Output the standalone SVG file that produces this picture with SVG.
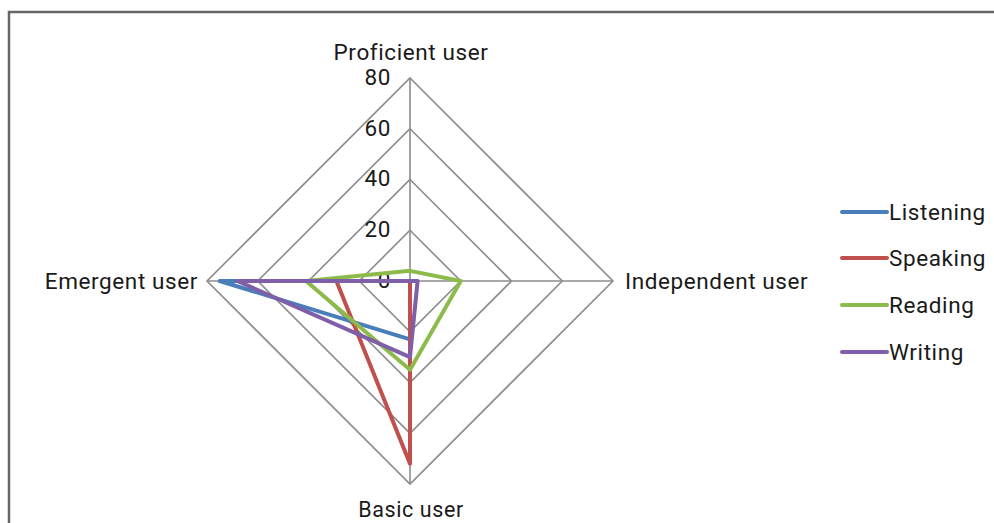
<svg xmlns="http://www.w3.org/2000/svg" width="994" height="523" viewBox="0 0 994 523">
  <style>
    text { font-family: Roboto, "Liberation Sans", sans-serif; font-size: 22.5px; letter-spacing: 0.6px; fill: #1a1a1a; }
    .grid { fill: none; stroke: #8c8c8c; stroke-width: 1.6; }
    .series { fill: none; stroke-width: 4; stroke-linejoin: round; stroke-linecap: round; }
    .tick { text-anchor: end; }
  </style>
  <rect width="994" height="523" fill="#ffffff"/>
  <!-- chart frame -->
  <rect x="9" y="12" width="1000" height="530" fill="none" stroke="#666666" stroke-width="2.5"/>

  <!-- radar grid: centre (410,281), radius 203 for 80 -->
  <g id="grid">
    <polygon class="grid" points="410,230.25 460.75,281 410,331.75 359.25,281"/>
    <polygon class="grid" points="410,179.5 511.5,281 410,382.5 308.5,281"/>
    <polygon class="grid" points="410,128.75 562.25,281 410,433.25 257.75,281"/>
    <polygon class="grid" points="410,78 613,281 410,484 207,281"/>
    <line class="grid" x1="410" y1="281" x2="410" y2="78"/>
    <line class="grid" x1="410" y1="281" x2="613" y2="281"/>
    <line class="grid" x1="410" y1="281" x2="410" y2="484"/>
    <line class="grid" x1="410" y1="281" x2="207" y2="281"/>
  </g>

  <g id="ticks">
    <text class="tick" x="391" y="288">0</text>
    <text class="tick" x="391" y="237">20</text>
    <text class="tick" x="391" y="186">40</text>
    <text class="tick" x="391" y="136">60</text>
    <text class="tick" x="391" y="85">80</text>
  </g>

  <g id="axis-labels">
    <text x="411" y="60" text-anchor="middle">Proficient user</text>
    <text x="625" y="289">Independent user</text>
    <text x="411" y="517" text-anchor="middle" style="font-size:21.5px">Basic user</text>
    <text x="198" y="289" text-anchor="end">Emergent user</text>
  </g>

  <g id="connectors">
    <polygon id="listening" class="series" stroke="#4a7ebb" points="410,281 410,281 410,339.4 219.7,281"/>
    <polygon id="speaking" class="series" stroke="#c0504d" points="410,281 410,281 410,463.7 336.4,281"/>
    <polygon id="reading" class="series" stroke="#8dbb4b" points="410,270.85 460.75,281 410,369.8 306,281"/>
    <polygon id="writing" class="series" stroke="#7f5fa8" points="410,281 417.6,281 410,357.1 237.4,281"/>
  </g>

  <g id="legend">
    <g id="legend-listening">
      <line x1="842" y1="212" x2="887" y2="212" stroke="#4a7ebb" stroke-width="4" stroke-linecap="round"/>
      <text x="889" y="220">Listening</text>
    </g>
    <g id="legend-speaking">
      <line x1="842" y1="258" x2="887" y2="258" stroke="#c0504d" stroke-width="4" stroke-linecap="round"/>
      <text x="889" y="266">Speaking</text>
    </g>
    <g id="legend-reading">
      <line x1="842" y1="305" x2="887" y2="305" stroke="#8dbb4b" stroke-width="4" stroke-linecap="round"/>
      <text x="889" y="313">Reading</text>
    </g>
    <g id="legend-writing">
      <line x1="842" y1="352" x2="887" y2="352" stroke="#7f5fa8" stroke-width="4" stroke-linecap="round"/>
      <text x="889" y="360">Writing</text>
    </g>
  </g>
</svg>
